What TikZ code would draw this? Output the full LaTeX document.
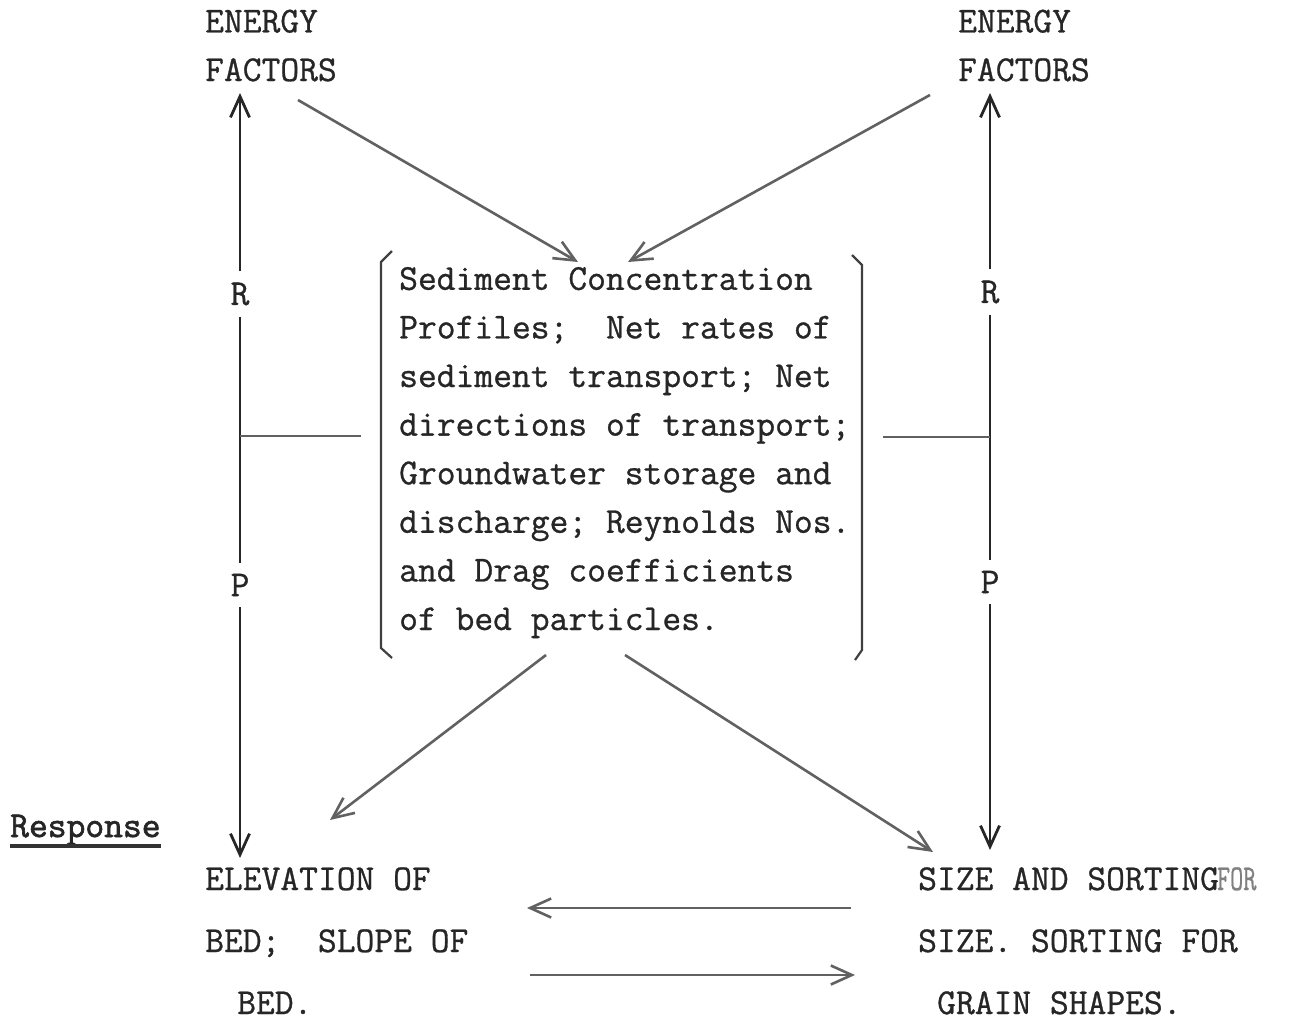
\documentclass[tikz,border=0pt]{standalone}
\usepackage{fontspec}
\usetikzlibrary{arrows.meta}
\newfontfamily\twfont[FakeBold=0.8]{Latin Modern Mono}
\newfontfamily\twbold[FakeBold=1.8]{Latin Modern Mono}
\begin{document}
\begin{tikzpicture}[x=1pt,y=-1pt,
  tw/.style={font=\twfont\fontsize{36.5}{48.6}\selectfont, inner sep=0pt, anchor=base west, align=left, text=black!85},
  twb/.style={font=\twfont\fontsize{36.5}{62}\selectfont, inner sep=0pt, anchor=base west, align=left, text=black!85},
  lbl/.style={font=\twfont\fontsize{36.5}{40}\selectfont, inner xsep=2pt, inner ysep=11pt, anchor=center, text=black!85},
  vline/.style={line width=2.8pt, draw=black!85},
  gline/.style={line width=2.6pt, draw=black!62},
  barb/.style={-{Straight Barb[length=21pt,width=19pt]}},
  brk/.style={line width=2.2pt, draw=black!75}
]
\useasboundingbox (0,0) rectangle (1293,1023);

% text nodes (anchor = baseline of the last line)
\node[tw] (efL) at (205,81) {ENERGY\\FACTORS};
\node[tw] (efR) at (958,81) {ENERGY\\FACTORS};
\node[tw] (box) at (399,630) {Sediment Concentration\\Profiles;~ Net rates of\\sediment transport; Net\\directions of transport;\\Groundwater storage and\\discharge; Reynolds Nos.\\and Drag coefficients\\of bed particles.};
\node[tw, font=\twbold\fontsize{36.5}{40}\selectfont] (resp) at (10,837) {Response};
\node[twb] (elev) at (205,1014) {ELEVATION OF\\BED;~ SLOPE OF\\\hspace*{32pt}BED.};
\node[twb] (size) at (918,1014) {SIZE AND SORTING\hspace{-2pt}\scalebox{0.7}[1]{\textcolor{black!50}{FOR}}\\SIZE. SORTING FOR\\\hspace*{19pt}GRAIN SHAPES.};

\node[lbl] (rL) at (240,294) {R};
\node[lbl] (pL) at (240,585) {P};
\node[lbl] (rR) at (990,292) {R};
\node[lbl] (pR) at (990,582) {P};

% underline of Response
\draw[line width=3.5pt, draw=black!80] ([yshift=-9pt]resp.base west) -- ([yshift=-9pt]resp.base east);

% coordinates
\coordinate (tL) at (240,93);
\coordinate (bL) at (240,858);
\coordinate (tR) at (990,93);
\coordinate (bR) at (990,850);
\coordinate (jL) at (240,436);
\coordinate (jLe) at (361,436);
\coordinate (jR) at (990,437);
\coordinate (jRs) at (883,437);

\coordinate (a1s) at (298,100);
\coordinate (a1e) at (578,262);
\coordinate (a2s) at (930,95);
\coordinate (a2e) at (628,262);
\coordinate (a3s) at (546,655);
\coordinate (a3e) at (330,820);
\coordinate (a4s) at (625,655);
\coordinate (a4e) at (933,852);
\coordinate (a5s) at (851,908);
\coordinate (a5e) at (527,908);
\coordinate (a6s) at (530,975);
\coordinate (a6e) at (855,975);

% vertical R/P lines
\draw[vline,barb] (rL.north) -- (tL);
\draw[vline] (rL.south) -- (pL.north);
\draw[vline,barb] (pL.south) -- (bL);
\draw[vline,barb] (rR.north) -- (tR);
\draw[vline] (rR.south) -- (pR.north);
\draw[vline,barb] (pR.south) -- (bR);

% tees
\draw[gline] (jL) -- (jLe);
\draw[gline] (jRs) -- (jR);

% brackets
\draw[brk] (392,251) -- (381,262) -- (381,648) -- (392,658);
\draw[brk] (852,255) -- (862,265) -- (862,650) -- (855,660);

% diagonal arrows
\draw[gline,barb] (a1s) -- (a1e);
\draw[gline,barb] (a2s) -- (a2e);
\draw[gline,barb] (a3s) -- (a3e);
\draw[gline,barb] (a4s) -- (a4e);

% horizontal arrows
\draw[gline,barb] (a5s) -- (a5e);
\draw[gline,barb] (a6s) -- (a6e);
\end{tikzpicture}
\end{document}
